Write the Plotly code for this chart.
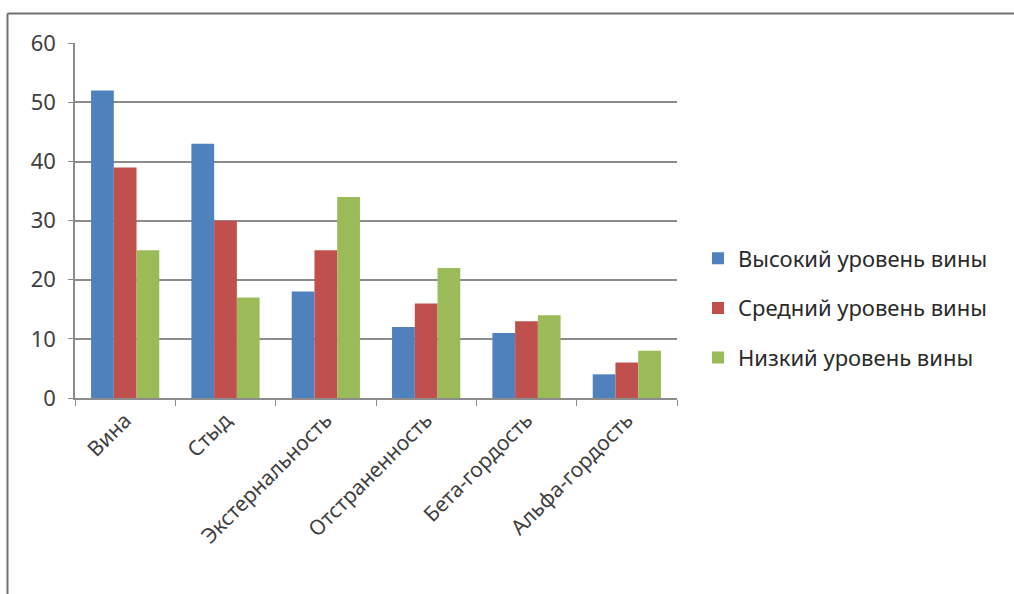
import plotly.graph_objects as go

categories = ["Вина", "Стыд", "Экстернальность", "Отстраненность", "Бета-гордость", "Альфа-гордость"]
series_names = ["Высокий уровень вины", "Средний уровень вины", "Низкий уровень вины"]
high = [52, 43, 18, 12, 11, 4]
mid = [39, 30, 25, 16, 13, 6]
low = [25, 17, 34, 22, 14, 8]
y_ticks = [0, 10, 20, 30, 40, 50, 60]

colors = ["#4F81BD", "#C0504D", "#9BBB59"]
FONT = "Noto Sans"

W, H = 1014, 594
L, R, T, B = 75, 337, 43, 196
pw, ph = W - L - R, H - T - B

def px_x(x):
    return (x - L) / pw

def px_y(y):
    return 1 - (y - T) / ph

fig = go.Figure()
for name, vals, c in zip(series_names, [high, mid, low], colors):
    fig.add_trace(go.Bar(x=categories, y=vals, name=name, marker_color=c,
                         marker_line_width=0, legendgroup=name))

fig.update_layout(
    width=W, height=H,
    margin=dict(l=L, r=R, t=T, b=B),
    paper_bgcolor="white", plot_bgcolor="white",
    barmode="group", bargap=0.32, bargroupgap=0,
    font=dict(family=FONT, size=16, color="#404040"),
    showlegend=True,
    legend=dict(x=px_x(698), xanchor="left", y=px_y(308), yanchor="middle",
                font=dict(family=FONT, size=22, color="#2a2a2a"),
                traceorder="grouped", tracegroupgap=18, itemwidth=30,
                bgcolor="rgba(0,0,0,0)"),
    xaxis=dict(showline=True, linecolor="#8c8c8c", linewidth=1.5,
               ticks="outside", tickson="boundaries", ticklen=6, tickcolor="#8c8c8c",
               tickangle=-45, tickfont=dict(family=FONT, size=21, color="#404040"),
               showgrid=False),
    yaxis=dict(range=[0, 60.05], tickvals=y_ticks, showline=True, linecolor="#8c8c8c", linewidth=1.5,
               ticks="outside", ticklen=5, tickcolor="#8c8c8c", ticklabelstandoff=8,
               showgrid=True, gridcolor="#8c8c8c", gridwidth=1.5, zeroline=False,
               tickfont=dict(family=FONT, size=22, color="#404040")),
    shapes=[
        dict(type="line", xref="paper", yref="paper", x0=px_x(7.5), x1=px_x(1016),
             y0=px_y(13.5), y1=px_y(13.5), line=dict(color="#707070", width=2)),
        dict(type="line", xref="paper", yref="paper", x0=px_x(7.5), x1=px_x(7.5),
             y0=px_y(13.5), y1=px_y(596), line=dict(color="#707070", width=2)),
    ],
)

fig.write_html("out.html")
